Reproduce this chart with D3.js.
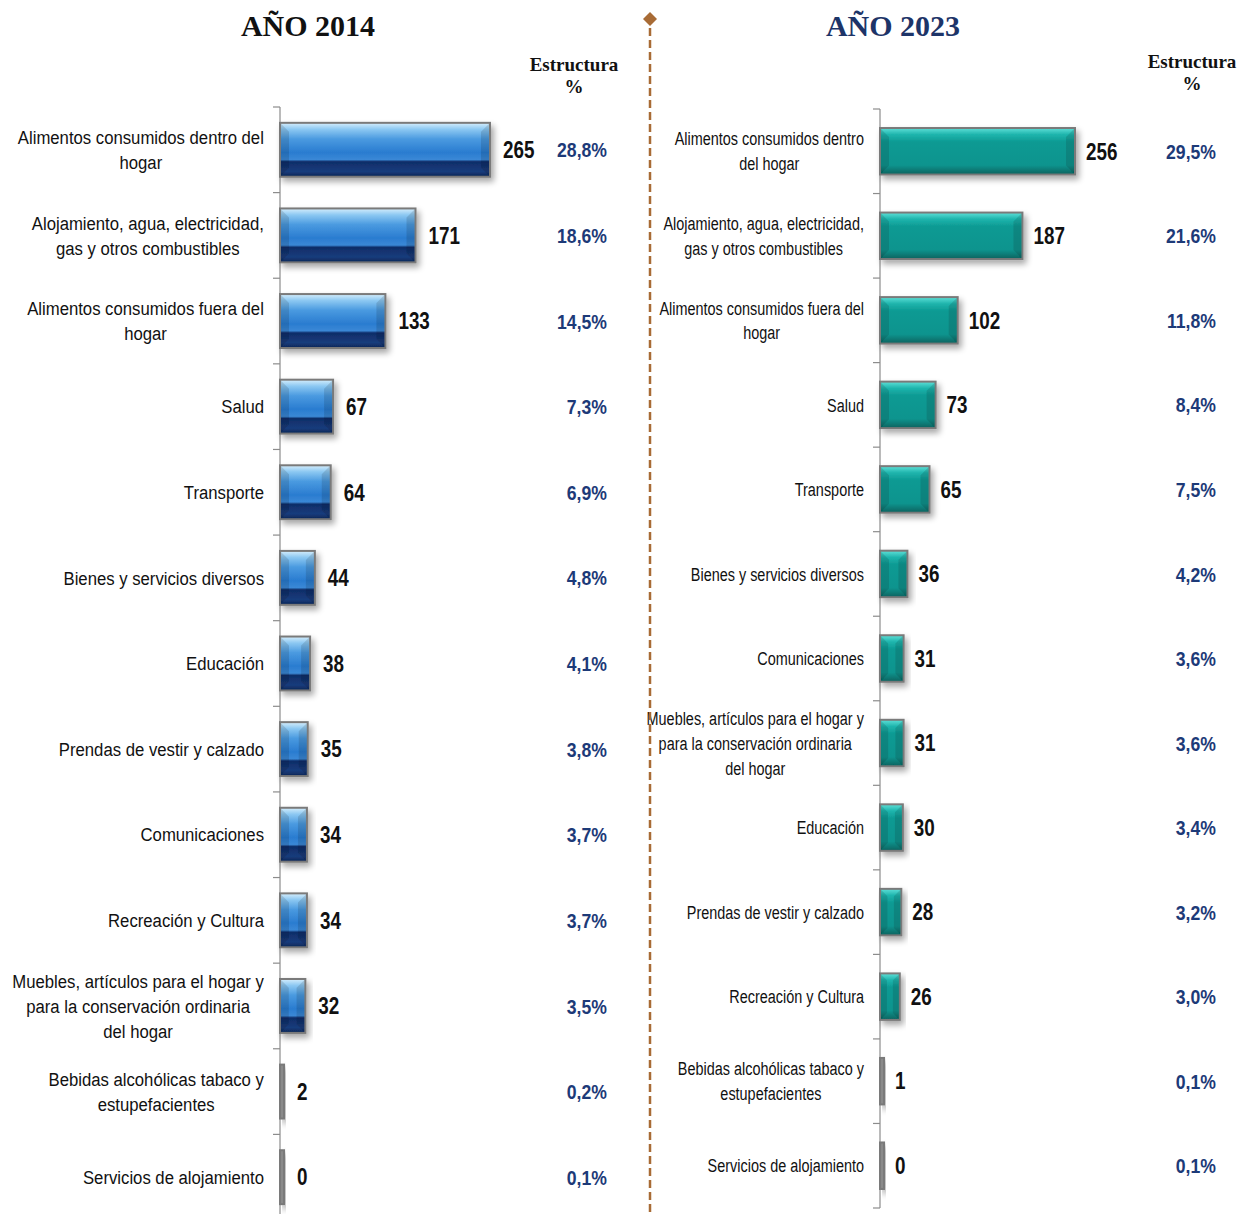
<!DOCTYPE html>
<html>
<head>
<meta charset="utf-8">
<script src="https://cdn.jsdelivr.net/npm/d3@7"></script>
<style>
  body { margin: 0; background: #fff; }
  .lbl { font-family: "Liberation Sans", Arial, sans-serif; font-size: 19px; fill: #111; }
  .val { font-family: "Liberation Sans", Arial, sans-serif; font-size: 23px; font-weight: bold; fill: #111; }
  .pct { font-family: "Liberation Sans", Arial, sans-serif; font-size: 21px; font-weight: bold; fill: #1d3a78; }
  .ttl { font-family: "Liberation Serif", "DejaVu Serif", serif; font-weight: bold; font-size: 30px; }
  .est { font-family: "Liberation Serif", "DejaVu Serif", serif; font-weight: bold; font-size: 19px; fill: #111; }
</style>
</head>
<body>
<svg id="chart" width="1254" height="1214"></svg>
<script>
// ---- data 2014
const cats2014 = [
  "Alimentos consumidos dentro del\nhogar",
  "Alojamiento, agua, electricidad,\ngas y otros combustibles",
  "Alimentos consumidos fuera del\nhogar",
  "Salud",
  "Transporte",
  "Bienes y servicios diversos",
  "Educación",
  "Prendas de vestir y calzado",
  "Comunicaciones",
  "Recreación y Cultura",
  "Muebles, artículos para el hogar y\npara la conservación ordinaria\ndel hogar",
  "Bebidas alcohólicas tabaco y\nestupefacientes",
  "Servicios de alojamiento"
];
const vals2014 = [265, 171, 133, 67, 64, 44, 38, 35, 34, 34, 32, 2, 0];
const pcts2014 = ["28,8%", "18,6%", "14,5%", "7,3%", "6,9%", "4,8%", "4,1%", "3,8%", "3,7%", "3,7%", "3,5%", "0,2%", "0,1%"];

// ---- data 2023
const cats2023 = [
  "Alimentos consumidos dentro\ndel hogar",
  "Alojamiento, agua, electricidad,\ngas y otros combustibles",
  "Alimentos consumidos fuera del\nhogar",
  "Salud",
  "Transporte",
  "Bienes y servicios diversos",
  "Comunicaciones",
  "Muebles, artículos para el hogar y\npara la conservación ordinaria\ndel hogar",
  "Educación",
  "Prendas de vestir y calzado",
  "Recreación y Cultura",
  "Bebidas alcohólicas tabaco y\nestupefacientes",
  "Servicios de alojamiento"
];
const vals2023 = [256, 187, 102, 73, 65, 36, 31, 31, 30, 28, 26, 1, 0];
const pcts2023 = ["29,5%", "21,6%", "11,8%", "8,4%", "7,5%", "4,2%", "3,6%", "3,6%", "3,4%", "3,2%", "3,0%", "0,1%", "0,1%"];

const svg = d3.select('#chart');
const defs = svg.append('defs');

// gradients for the 3D look
const blue = defs.append('linearGradient').attr('id', 'gBlue').attr('x1', 0).attr('y1', 0).attr('x2', 0).attr('y2', 1);
[[0, '#d6eefc'], [0.12, '#8cc8f2'], [0.3, '#4a9ae0'], [0.55, '#2a7cd0'], [0.68, '#3a88d6'], [0.72, '#0f2d68'], [0.9, '#183c7c'], [1, '#0c2555']]
  .forEach(s => blue.append('stop').attr('offset', s[0]).attr('stop-color', s[1]));
const teal = defs.append('linearGradient').attr('id', 'gTeal').attr('x1', 0).attr('y1', 0).attr('x2', 0).attr('y2', 1);
[[0, '#5fe0d8'], [0.14, '#1fb5ad'], [0.3, '#0d9a93'], [0.8, '#0b948e'], [1, '#06625e']]
  .forEach(s => teal.append('stop').attr('offset', s[0]).attr('stop-color', s[1]));

const shadow = defs.append('filter').attr('id', 'shadow').attr('x', '-20%').attr('y', '-20%').attr('width', '150%').attr('height', '160%');
shadow.append('feGaussianBlur').attr('in', 'SourceAlpha').attr('stdDeviation', 3);
shadow.append('feOffset').attr('dx', 3).attr('dy', 4).attr('result', 'b');
shadow.append('feComponentTransfer').append('feFuncA').attr('type', 'linear').attr('slope', 0.35);
const merge = shadow.append('feMerge');
merge.append('feMergeNode');
merge.append('feMergeNode').attr('in', 'SourceGraphic');

// narrow text: draw with Liberation Sans and squeeze horizontally
function narrowText(g, cls, x, y, sx, anchor, str) {
  return g.append('text').attr('class', cls)
    .attr('transform', `translate(${x},${y}) scale(${sx},1)`)
    .attr('text-anchor', anchor).attr('dy', '0.36em').text(str);
}

function panel(cfg) {
  const y = d3.scaleBand().domain(d3.range(cfg.cats.length)).range(cfg.yRange).paddingInner(cfg.pad).paddingOuter(cfg.pad / 2);
  const x = d3.scaleLinear().domain([0, cfg.max]).range([cfg.x0, cfg.x1]);
  const g = svg.append('g');

  // axis line with ticks at band boundaries
  const step = y.step();
  const bounds = d3.range(cfg.cats.length + 1).map(i => cfg.yRange[0] + i * step);
  g.append('line').attr('x1', cfg.x0).attr('x2', cfg.x0).attr('y1', cfg.yRange[0]).attr('y2', cfg.axisEnd)
    .attr('stroke', '#8c8c8c').attr('stroke-width', 1.2);
  g.selectAll('.tk').data(bounds).join('line')
    .attr('x1', cfg.x0 - 7).attr('x2', cfg.x0).attr('y1', d => d).attr('y2', d => d)
    .attr('stroke', '#8c8c8c').attr('stroke-width', 1.2);

  const bw = (v) => Math.max(x(v) - x(0), 4);
  const bars = g.selectAll('.bar').data(cfg.vals).join('g').attr('filter', 'url(#shadow)');
  bars.append('rect')
    .attr('x', x(0)).attr('y', (d, i) => y(i))
    .attr('width', d => bw(d)).attr('height', y.bandwidth())
    .attr('fill', d => bw(d) < 6 ? '#8a8a8a' : `url(#${cfg.grad})`)
    .attr('stroke', '#7a7a7a').attr('stroke-width', 2);
  // bevel on the sides
  bars.filter(d => bw(d) >= 6).append('path')
    .attr('d', (d, i) => {
      const x0 = x(0) + 1, x1 = x(0) + bw(d) - 1, y0 = y(i) + 1, y1 = y(i) + y.bandwidth() - 1;
      const b = Math.min(8, (x1 - x0) / 3);
      return `M${x0},${y0}L${x0 + b},${y0 + b}L${x0 + b},${y1 - b}L${x0},${y1}Z` +
             `M${x1},${y0}L${x1 - b},${y0 + b}L${x1 - b},${y1 - b}L${x1},${y1}Z`;
    })
    .attr('fill', '#000').attr('opacity', 0.12);

  cfg.vals.forEach((v, i) => {
    const cy = y(i) + y.bandwidth() / 2;
    narrowText(g, 'val', x(0) + bw(v) + cfg.valGap, cy, 0.82, 'start', v);
    narrowText(g, 'pct', cfg.pctX, cy + cfg.pctDy, 0.84, 'end', cfg.pcts[i]);
  });

  // category labels: block right-aligned, lines centered in the block
  cfg.cats.forEach((c, i) => {
    const lines = c.split('\n');
    const cy = y(i) + y.bandwidth() / 2;
    const t = g.append('text').attr('class', 'lbl');
    const spans = lines.map((l, k) => t.append('tspan')
      .attr('y', (k - (lines.length - 1) / 2) * cfg.lh).attr('dy', '0.35em').text(l));
    const w = d3.max(spans, s => s.node().getComputedTextLength());
    spans.forEach(s => s.attr('x', 0));
    if (lines.length === 1) {
      t.attr('text-anchor', 'end')
        .attr('transform', `translate(${cfg.lblX},${cy}) scale(${cfg.lblSx},1)`);
    } else {
      t.attr('text-anchor', 'middle')
        .attr('transform', `translate(${cfg.lblX - w * cfg.lblSx / 2},${cy}) scale(${cfg.lblSx},1)`);
    }
  });

  svg.append('text').attr('class', 'ttl').attr('x', cfg.titleX).attr('y', 36).attr('text-anchor', 'middle')
    .attr('fill', cfg.titleColor).text(cfg.title);
  const est = svg.append('text').attr('class', 'est').attr('text-anchor', 'middle');
  est.append('tspan').attr('x', cfg.estX).attr('y', cfg.estY).text('Estructura');
  est.append('tspan').attr('x', cfg.estX).attr('y', cfg.estY + 22).text('%');
}

panel({
  cats: cats2014, vals: vals2014, pcts: pcts2014, grad: 'gBlue',
  yRange: [107, 1220], pad: 0.37, axisEnd: 1214,
  x0: 280, x1: 490, max: 265, valGap: 13, pctX: 607, pctDy: 0, lblX: 264, lh: 25, lblSx: 0.88,
  title: 'AÑO 2014', titleX: 308, titleColor: '#111', estX: 574, estY: 71
});
panel({
  cats: cats2023, vals: vals2023, pcts: pcts2023, grad: 'gTeal',
  yRange: [109, 1208], pad: 0.45, axisEnd: 1208,
  x0: 880, x1: 1075, max: 256, valGap: 11, pctX: 1216, pctDy: 0, lblX: 864, lh: 25, lblSx: 0.76,
  title: 'AÑO 2023', titleX: 893, titleColor: '#1d3468', estX: 1192, estY: 68
});

// dashed divider with diamond
svg.append('line').attr('x1', 650).attr('x2', 650).attr('y1', 28).attr('y2', 1214)
  .attr('stroke', '#a86b35').attr('stroke-width', 2.5).attr('stroke-dasharray', '8,4');
svg.append('path').attr('d', 'M650,12L657,19L650,26L643,19Z').attr('fill', '#a86b35');
</script>
</body>
</html>
